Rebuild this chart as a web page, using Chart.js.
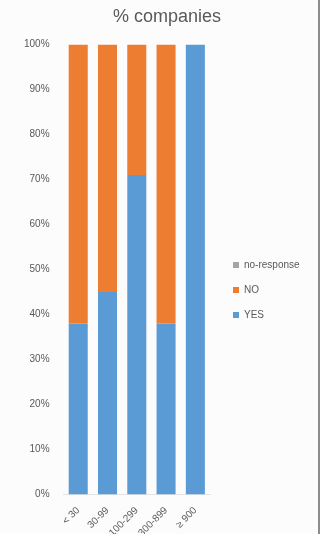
<!DOCTYPE html>
<html>
<head>
<meta charset="utf-8">
<script src="https://cdn.jsdelivr.net/npm/chart.js@4"></script>
<style>
    html, body { margin: 0; padding: 0; background: #fcfcfc; }
    #wrap { width: 318px; height: 534px; overflow: hidden; border-right: 2px solid #8c8c8c; background: #fcfcfc; }
</style>
</head>
<body>
<div id="wrap"><canvas id="chart" width="318" height="541"></canvas></div>
<script>
const categories = ["< 30", "30-99", "100-299", "300-899", "≥ 900"];
const yesValues = [38, 45, 71, 38, 100];
const noValues = [62, 55, 29, 62, 0];
const noResponseValues = [0, 0, 0, 0, 0];

const textColor = "#595959";
const tickFont = { family: "Liberation Sans", size: 10 };

// nudge legend and title to where the original puts them
const placeBoxes = {
    id: "placeBoxes",
    afterLayout(chart) {
        const lg = chart.legend;
        lg.left += 8;
        lg.top += 39;
        lg.right = chart.width;
        lg.width = lg.right - lg.left;
        chart.titleBlock.left = 16;
        chart.titleBlock.right = chart.width;
    }
};

new Chart(document.getElementById("chart"), {
    type: "bar",
    data: {
        labels: categories,
        datasets: [
            { label: "YES", data: yesValues, backgroundColor: "#5b9bd5", barPercentage: 0.65, categoryPercentage: 1 },
            { label: "NO", data: noValues, backgroundColor: "#ed7d31", barPercentage: 0.65, categoryPercentage: 1 },
            { label: "no-response", data: noResponseValues, backgroundColor: "#a5a5a5", barPercentage: 0.65, categoryPercentage: 1 }
        ]
    },
    options: {
        responsive: false,
        animation: false,
        layout: { padding: { left: 18, right: 44, top: 0, bottom: 0 } },
        plugins: {
            title: {
                display: true,
                text: "% companies",
                color: textColor,
                font: { family: "Liberation Sans", size: 18, weight: "normal" },
                padding: { top: 6, bottom: 17 }
            },
            legend: {
                position: "right",
                reverse: true,
                labels: {
                    color: textColor,
                    font: tickFont,
                    boxWidth: 6,
                    boxHeight: 6,
                    padding: 15
                }
            },
            tooltip: { enabled: false }
        },
        scales: {
            x: {
                stacked: true,
                grid: { display: false },
                border: { display: true, color: "#e3e3e3" },
                ticks: { color: textColor, font: tickFont, minRotation: 45, maxRotation: 45, padding: 2 },
                afterFit: scale => {
                    scale.paddingLeft = 0;
                    scale.paddingRight = 0;
                }
            },
            y: {
                stacked: true,
                min: 0,
                max: 100,
                grid: { display: false },
                border: { display: false },
                ticks: {
                    stepSize: 10,
                    color: textColor,
                    font: tickFont,
                    padding: 6,
                    callback: v => v + "%"
                }
            }
        }
    },
    plugins: [placeBoxes]
});
</script>
</body>
</html>
